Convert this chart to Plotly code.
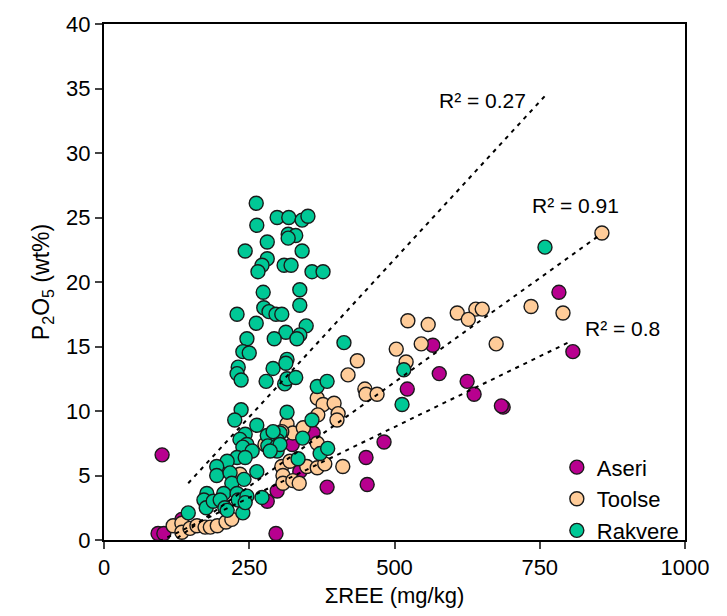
import plotly.graph_objects as go

# ---- data ----
series_names = ["Aseri", "Toolse", "Rakvere"]
series_colors = ["#B8008F", "#FFCC99", "#00C896"]

aseri_x = [783, 807, 566, 577, 625, 637, 687, 684, 522, 482, 451, 453, 384, 360, 324, 337, 298, 281, 296, 100, 93, 103, 134]
aseri_y = [19.2, 14.6, 15.1, 12.9, 12.3, 11.3, 10.3, 10.4, 11.7, 7.6, 6.4, 4.3, 4.1, 8.3, 7.4, 5.3, 3.8, 3.0, 0.5, 6.6, 0.5, 0.5, 1.6]

toolse_x = [857, 735, 790, 608, 640, 651, 627, 523, 558, 675, 503, 546, 520, 436, 420, 449, 451, 470, 367, 377, 396, 403, 401, 368,
            315, 325, 343, 306, 277, 367, 306, 320, 349, 367, 380, 411, 308, 308, 325, 336, 234, 119, 134, 134, 148, 160, 174, 183,
            195, 210, 220]
toolse_y = [23.8, 18.1, 17.6, 17.6, 17.9, 17.9, 17.1, 17.0, 16.7, 15.2, 14.8, 15.2, 13.8, 13.9, 12.8, 11.7, 11.3, 11.3, 11.0, 10.5,
            10.6, 9.8, 9.3, 9.7, 9.0, 8.3, 8.7, 8.4, 7.4, 7.5, 5.7, 6.1, 5.7, 5.6, 5.9, 5.7, 5.0, 4.4, 4.6, 4.4, 5.1, 1.1, 1.3,
            0.6, 0.9, 1.1, 1.0, 1.0, 1.1, 1.4, 1.6]

rakvere_x = [262, 263, 298, 318, 341, 351, 317, 330, 317, 281, 243, 341, 281, 272, 265, 310, 322, 358, 377, 274, 337, 275,
             284, 296, 306, 337, 229, 262, 348, 313, 293, 337, 332, 246, 239, 250, 413, 231, 229, 236, 291, 315, 313, 279,
             311, 315, 330, 367, 384, 236, 225, 263, 315, 243, 234, 281, 303, 299, 342, 246, 282, 298, 239, 255, 229, 243,
             212, 194, 194, 217, 220, 241, 263, 206, 229, 177, 172, 176, 188, 200, 208, 212, 231, 246, 239, 145, 243, 272,
             298, 303, 334, 372, 385, 358, 516, 513, 759, 291, 286]
rakvere_y = [26.1, 24.4, 25.0, 25.0, 24.8, 25.1, 23.7, 23.6, 23.4, 23.1, 22.4, 22.4, 21.8, 21.3, 20.8, 21.3, 21.3, 20.8, 20.8,
             19.2, 19.4, 18.0, 17.7, 17.5, 17.5, 18.2, 17.5, 16.8, 16.6, 16.1, 15.6, 15.9, 15.6, 15.6, 14.6, 14.5, 15.3, 13.4,
             12.9, 12.4, 13.3, 14.0, 13.7, 12.3, 12.1, 12.5, 12.6, 11.9, 12.3, 10.1, 9.3, 8.9, 9.9, 8.2, 7.8, 8.1, 8.3, 7.7,
             7.9, 7.4, 7.3, 7.3, 7.2, 6.9, 6.4, 6.4, 6.1, 5.7, 5.0, 5.2, 4.4, 4.7, 5.3, 3.6, 3.6, 3.6, 3.1, 2.5, 3.0, 3.1,
             2.5, 2.3, 3.1, 3.4, 2.1, 2.1, 2.9, 3.3, 6.9, 7.4, 6.3, 6.7, 7.1, 9.3, 13.2, 10.5, 22.7, 8.4, 6.9]

# linear trend lines (slope, intercept, x-range)
trend_slope = [0.0219, 0.0323, 0.0489]
trend_intercept = [-2.19, -3.92, -2.69]
trend_xmin = [95, 126, 145]
trend_xmax = [805, 849, 759]
trend_labels = ["R² = 0.8", "R² = 0.91", "R² = 0.27"]
label_x = [892, 812, 652]
label_y = [16.4, 25.9, 34.1]

x_ticks = [0, 250, 500, 750, 1000]
y_ticks = [0, 5, 10, 15, 20, 25, 30, 35, 40]

FONT = "Liberation Sans, Arial, sans-serif"

fig = go.Figure()
for name, color, xs, ys in zip(series_names, series_colors,
                               [aseri_x, toolse_x, rakvere_x], [aseri_y, toolse_y, rakvere_y]):
    fig.add_trace(go.Scatter(
        x=xs, y=ys, mode="markers", name=name,
        marker=dict(size=14, color=color, line=dict(color="#1a1a1a", width=1.4)),
    ))

for s, b, x0, x1 in zip(trend_slope, trend_intercept, trend_xmin, trend_xmax):
    fig.add_trace(go.Scatter(
        x=[x0, x1], y=[s * x0 + b, s * x1 + b], mode="lines", showlegend=False,
        line=dict(color="black", width=2, dash="4px,5px"), hoverinfo="skip",
    ))

for t, lx, ly in zip(trend_labels, label_x, label_y):
    fig.add_annotation(x=lx, y=ly, text=t, showarrow=False,
                       font=dict(family=FONT, size=21, color="black"))

fig.update_layout(
    width=727, height=616,
    margin=dict(l=104, r=42, t=18, b=76),
    paper_bgcolor="white", plot_bgcolor="white",
    font=dict(family=FONT, size=22, color="black"),
    showlegend=True,
    legend=dict(x=0.998, y=-0.022, xanchor="right", yanchor="bottom",
                bgcolor="rgba(0,0,0,0)", font=dict(size=22),
                itemwidth=30, tracegroupgap=0),
)
fig.update_xaxes(
    range=[0, 1000], tickvals=x_ticks, ticks="outside", ticklen=7, tickwidth=2,
    showline=True, linecolor="black", linewidth=2, mirror=True, showgrid=False, zeroline=False,
    title=dict(text="ΣREE (mg/kg)", font=dict(size=22), standoff=8),
    tickfont=dict(size=22),
)
fig.update_yaxes(
    range=[0, 40], tickvals=y_ticks, ticks="outside", ticklen=7, tickwidth=2,
    showline=True, linecolor="black", linewidth=2, mirror=True, showgrid=False, zeroline=False,
    title=dict(text="P<sub>2</sub>O<sub>5</sub> (wt%)", font=dict(size=23), standoff=10),
    tickfont=dict(size=22),
)

fig.write_html("out.html")
